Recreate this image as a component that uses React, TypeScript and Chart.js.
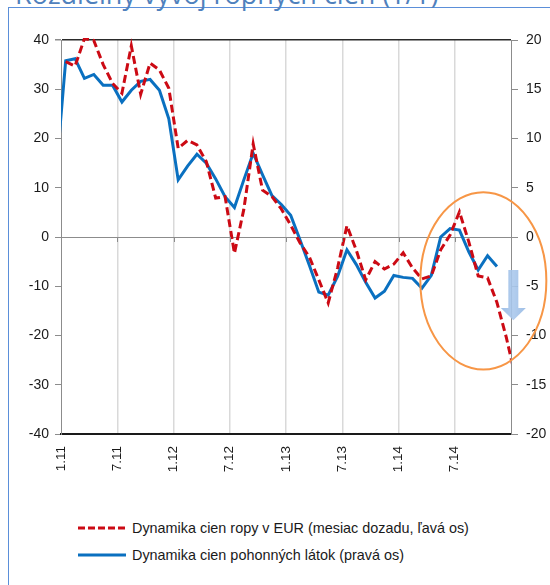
import React, { useEffect, useRef } from 'react';
import { Chart, registerables } from 'chart.js';
Chart.register(...registerables);

// Months (Dec 2010 .. Jan 2015); the plotted window is Jan 2011 .. Dec 2014
const months = [
  '12.10',
  '1.11', '2.11', '3.11', '4.11', '5.11', '6.11', '7.11', '8.11', '9.11', '10.11', '11.11', '12.11',
  '1.12', '2.12', '3.12', '4.12', '5.12', '6.12', '7.12', '8.12', '9.12', '10.12', '11.12', '12.12',
  '1.13', '2.13', '3.13', '4.13', '5.13', '6.13', '7.13', '8.13', '9.13', '10.13', '11.13', '12.13',
  '1.14', '2.14', '3.14', '4.14', '5.14', '6.14', '7.14', '8.14', '9.14', '10.14', '11.14', '12.14',
  '1.15',
];

// Oil price dynamics in EUR (month lag, left axis)
const oilEur = [
  null, 35.6, 34.7, 40.3, 39.9, 35.0, 31.2, 29.2, 38.8, 29.0, 35.3, 33.9, 30.2,
  18.0, 19.6, 18.7, 15.3, 7.9, 8.2, -3.3, 5.6, 18.9, 9.5, 8.2, 5.7,
  2.4, -1.2, -4.1, -8.7, -13.4, -6.3, 2.3, -2.7, -8.7, -5.0, -6.5, -5.5,
  -3.2, -6.3, -8.5, -7.9, -2.6, 0.4, 5.1, -1.0, -7.9, -8.3, -13.3, -20.4,
  -28.7,
];

// Fuel price dynamics (right axis)
const fuel = [
  6.7, 17.9, 18.1, 16.1, 16.5, 15.4, 15.4, 13.7, 14.9, 15.8, 16.0, 14.9, 12.0,
  5.8, 7.2, 8.4, 7.5, 5.9, 4.1, 3.0, 5.8, 8.5, 6.3, 4.2, 3.3,
  2.2, -0.3, -2.9, -5.6, -5.9, -4.0, -1.3, -2.8, -4.6, -6.2, -5.5, -3.9,
  -4.1, -4.2, -5.2, -3.9, 0.0, 0.85, 0.7, -1.5, -3.35, -1.9, -3.0, null,
  null,
];

const xTickLabels = ['1.11', '7.11', '1.12', '7.12', '1.13', '7.13', '1.14', '7.14'];

const legendLabels = [
  'Dynamika cien ropy v EUR (mesiac dozadu, ľavá os)',
  'Dynamika cien pohonných látok (pravá os)',
];

const RED = '#cc0a14';
const BLUE = '#0a70c0';
const FONT = '"Liberation Sans", Arial, sans-serif';

const toPoints = (vals: (number | null)[]) =>
  vals.map((v, i) => ({ x: i - 0.5, y: v }));

const overlayPlugin = {
  id: 'overlay',
  afterDraw(chart: any) {
    const { ctx, scales } = chart;
    const x = scales.x;
    const y = scales.y;
    ctx.save();
    // small tick marks on the zero line
    const y0 = y.getPixelForValue(0);
    ctx.strokeStyle = '#8c8c8c';
    ctx.lineWidth = 1;
    for (let v = 0; v <= 48; v += 6) {
      const px = Math.round(x.getPixelForValue(v)) + 0.5;
      ctx.beginPath();
      ctx.moveTo(px, y0);
      ctx.lineTo(px, y0 + 5);
      ctx.stroke();
    }
    // orange ellipse
    const cx = x.getPixelForValue(45.05);
    const cy = y.getPixelForValue(-8.9);
    const rx = x.getPixelForValue(45.05 + 6.72) - cx;
    const ry = y.getPixelForValue(-8.9 - 18) - cy;
    ctx.beginPath();
    ctx.ellipse(cx, cy, Math.abs(rx), Math.abs(ry), 0, 0, Math.PI * 2);
    ctx.strokeStyle = '#f79646';
    ctx.lineWidth = 2;
    ctx.stroke();
    // light-blue down arrow
    const ax = x.getPixelForValue(48.25);
    const top = y.getPixelForValue(-6.7);
    const headTop = y.getPixelForValue(-14.4);
    const tip = y.getPixelForValue(-16.9);
    const grad = ctx.createLinearGradient(ax - 12, 0, ax + 12, 0);
    grad.addColorStop(0, 'rgba(150,185,228,0.9)');
    grad.addColorStop(0.5, 'rgba(170,200,236,0.9)');
    grad.addColorStop(1, 'rgba(150,185,228,0.9)');
    ctx.fillStyle = grad;
    ctx.beginPath();
    ctx.moveTo(ax - 5, top);
    ctx.lineTo(ax + 5, top);
    ctx.lineTo(ax + 5, headTop);
    ctx.lineTo(ax + 12.5, headTop);
    ctx.lineTo(ax, tip);
    ctx.lineTo(ax - 12.5, headTop);
    ctx.lineTo(ax - 5, headTop);
    ctx.closePath();
    ctx.fill();
    ctx.restore();
  },
};

export default function App() {
  const ref = useRef<HTMLCanvasElement | null>(null);

  useEffect(() => {
    if (!ref.current) return;
    const tickFont = { family: FONT, size: 14 };
    const chart = new Chart(ref.current, {
      type: 'line',
      data: {
        datasets: [
          {
            label: legendLabels[0],
            data: toPoints(oilEur) as any,
            borderColor: RED,
            borderWidth: 3,
            borderDash: [8, 4],
            pointRadius: 0,
            tension: 0,
            yAxisID: 'y',
            clip: { left: 0, right: 0, top: 2, bottom: 2 } as any,
          },
          {
            label: legendLabels[1],
            data: toPoints(fuel) as any,
            borderColor: BLUE,
            borderWidth: 3,
            pointRadius: 0,
            tension: 0,
            yAxisID: 'y1',
            clip: { left: 0, right: 0, top: 2, bottom: 2 } as any,
          },
        ],
      },
      options: {
        responsive: false,
        animation: false,
        events: [],
        layout: { padding: { left: 0, right: 0, top: 32, bottom: 0 } },
        plugins: { legend: { display: false }, tooltip: { enabled: false } },
        scales: {
          x: {
            type: 'linear',
            min: 0,
            max: 48,
            ticks: {
              stepSize: 6,
              autoSkip: false,
              minRotation: 90,
              maxRotation: 90,
              padding: 12,
              color: '#1a1a1a',
              font: { family: FONT, size: 13.5 },
              callback: (v: any) => xTickLabels[Math.round(Number(v) / 6)] ?? '',
            },
            grid: {
              color: (c: any) =>
                c.tick && c.tick.value > 0 && c.tick.value < 48 ? '#d9d9d9' : 'rgba(0,0,0,0)',
              lineWidth: 1.5,
              drawTicks: false,
            },
            border: { display: true, color: '#1a1a1a', width: 2 },
            afterFit: (s: any) => {
              s.height = 54;
            },
          },
          y: {
            position: 'left',
            min: -40,
            max: 40,
            ticks: { stepSize: 10, padding: 6, color: '#1a1a1a', font: tickFont },
            grid: {
              color: (c: any) =>
                c.tick && c.tick.value === 0
                  ? '#8c8c8c'
                  : c.tick && c.tick.value === 40
                  ? '#2a2a2a'
                  : 'rgba(0,0,0,0)',
              lineWidth: (c: any) => (c.tick && c.tick.value === 40 ? 1.5 : 1),
              tickColor: '#8c8c8c',
              tickLength: 6,
              drawTicks: true,
            },
            border: { display: true, color: '#8c8c8c', width: 1 },
            afterFit: (s: any) => {
              s.width = 52;
            },
          },
          y1: {
            position: 'right',
            min: -20,
            max: 20,
            ticks: { stepSize: 5, padding: 8, color: '#1a1a1a', font: tickFont },
            grid: {
              drawOnChartArea: false,
              tickColor: '#8c8c8c',
              tickLength: 7,
              drawTicks: true,
            },
            border: { display: true, color: '#8c8c8c', width: 1 },
            afterFit: (s: any) => {
              s.width = 39;
            },
          },
        },
      },
      plugins: [overlayPlugin],
    });
    return () => chart.destroy();
  }, []);

  const legendRow = (i: number, top: number) => (
    <div
      key={i}
      style={{
        position: 'absolute',
        left: 69,
        top,
        height: 20,
        display: 'flex',
        alignItems: 'center',
        whiteSpace: 'nowrap',
      }}
    >
      <svg width={48} height={6} style={{ marginRight: 6 }}>
        {i === 0 ? (
          <line x1={0} y1={3} x2={48} y2={3} stroke={RED} strokeWidth={3} strokeDasharray="7 3" />
        ) : (
          <line x1={0} y1={3} x2={48} y2={3} stroke={BLUE} strokeWidth={3} />
        )}
      </svg>
      <span style={{ fontFamily: FONT, fontSize: 14.4, color: '#1a1a1a' }}>{legendLabels[i]}</span>
    </div>
  );

  return (
    <div
      style={{
        position: 'absolute',
        left: 8,
        top: 7,
        width: 620,
        height: 620,
        borderLeft: '1px solid #5b8fd9',
        borderTop: '1px solid #5b8fd9',
      }}
    >
      <div
        style={{
          position: 'absolute',
          left: 6,
          top: -33,
          fontFamily: '"Open Sans", Arial, sans-serif',
          fontSize: 27,
          color: '#4f81bd',
          whiteSpace: 'nowrap',
        }}
      >
        Rozdielny vývoj ropných cien (Y/Y)
      </div>
      <canvas ref={ref} width={541} height={480} style={{ position: 'absolute', left: 0, top: 0 }} />
      {legendRow(0, 510)}
      {legendRow(1, 537)}
    </div>
  );
}
